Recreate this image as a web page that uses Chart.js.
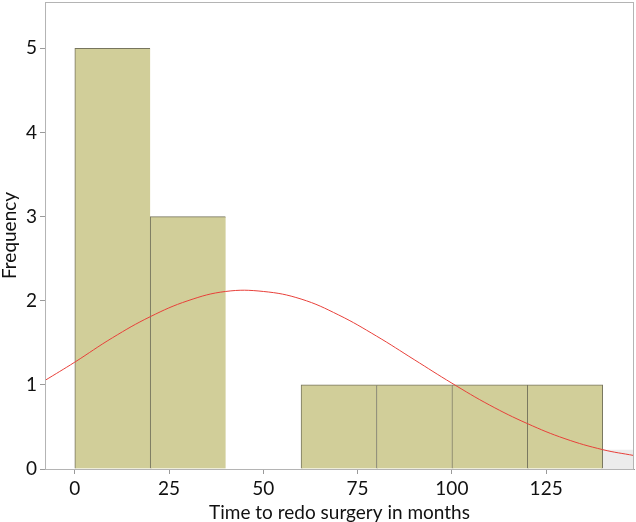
<!DOCTYPE html>
<html>
<head>
  <title>Time to redo surgery histogram</title>
  <script src="https://cdn.jsdelivr.net/npm/chart.js"></script>
  <style>
    body { margin: 0; background: #fff; }
  </style>
</head>
<body>
  <!-- Canvas for the histogram -->
  <canvas id="histChart" width="636" height="522"></canvas>

  <script>
    // Histogram bins (months) and counts
    const binStarts = [0, 20, 40, 60, 80, 100, 120];
    const binWidth = 20;
    const counts = [5, 3, 0, 1, 1, 1, 1];

    // Normal curve
    const curveX = [-8, 0, 10, 20, 30, 40, 50, 60, 70, 80, 90, 100, 110, 120, 130, 140, 148.3];
    const curveY = [1.05, 1.27, 1.56, 1.81, 2.0, 2.11, 2.11, 2.02, 1.83, 1.58, 1.3, 1.02, 0.76, 0.54, 0.36, 0.23, 0.16];

    // Light grey strip right of the last bar
    const greyX = [140, 148.3];
    const greyY = [0.23, 0.23];

    const xTicks = [0, 25, 50, 75, 100, 125];
    const yTicks = [0, 1, 2, 3, 4, 5];

    const barData = binStarts.map((s, i) => ({ x: s + binWidth / 2, y: counts[i] }));
    const curveData = curveX.map((x, i) => ({ x: x, y: curveY[i] }));
    const greyData = greyX.map((x, i) => ({ x: x, y: greyY[i] }));

    // Draws the box round the plot area
    const frame = {
      id: 'frame',
      afterDraw(chart) {
        const a = chart.chartArea;
        const ctx = chart.ctx;
        ctx.save();
        ctx.strokeStyle = '#b4b4b4';
        ctx.lineWidth = 1;
        ctx.strokeRect(a.left + 0.5, a.top + 0.5, a.right - a.left - 1, a.bottom - a.top);
        ctx.restore();
      }
    };

    const ctx = document.getElementById('histChart').getContext('2d');
    const lastBar = binStarts.length - 1;
    const labelFont = { family: 'Lato', size: 19, lineHeight: 1 };

    new Chart(ctx, {
      type: 'bar',
      data: {
        datasets: [
          {
            type: 'line',
            data: curveData,
            borderColor: '#e8403a',
            borderWidth: 1,
            pointRadius: 0,
            tension: 0.4,
            fill: false,
            order: 0
          },
          {
            type: 'bar',
            data: barData,
            backgroundColor: '#d1ce99',
            borderColor: '#77755e',
            borderWidth: (c) => ({ left: 1, top: 1, bottom: 0, right: c.dataIndex === lastBar ? 1 : 0 }),
            borderSkipped: false,
            barPercentage: 1,
            categoryPercentage: 1,
            order: 1
          },
          {
            type: 'line',
            data: greyData,
            borderWidth: 0,
            pointRadius: 0,
            backgroundColor: '#ececec',
            fill: 'origin',
            order: 2
          }
        ]
      },
      options: {
        responsive: false,
        animation: false,
        layout: { padding: { top: 2, right: 2, left: 0, bottom: 0 } },
        plugins: {
          legend: { display: false },
          tooltip: { enabled: false }
        },
        scales: {
          x: {
            type: 'linear',
            min: -7.9,
            max: 148.3,
            offset: false,
            afterBuildTicks: (axis) => { axis.ticks = xTicks.map(v => ({ value: v })); },
            grid: { drawOnChartArea: false, drawTicks: true, tickLength: 5, color: '#9a9a9a', offset: false },
            border: { display: true, color: '#9a9a9a' },
            ticks: { color: '#111', font: labelFont, padding: 5, maxRotation: 0 },
            title: { display: true, text: 'Time to redo surgery in months', color: '#111', font: labelFont, padding: { top: 0, bottom: 0 } }
          },
          y: {
            min: 0,
            max: 5.55,
            afterBuildTicks: (axis) => { axis.ticks = yTicks.map(v => ({ value: v })); },
            afterFit: (axis) => { axis.paddingTop = 0; },
            grid: { drawOnChartArea: false, drawTicks: true, tickLength: 5, color: '#9a9a9a' },
            border: { display: true, color: '#9a9a9a' },
            ticks: { color: '#111', font: labelFont, padding: 3 },
            title: { display: true, text: 'Frequency', color: '#111', font: labelFont, padding: { top: 0, bottom: 4 } }
          }
        }
      },
      plugins: [frame]
    });
  </script>
</body>
</html>
